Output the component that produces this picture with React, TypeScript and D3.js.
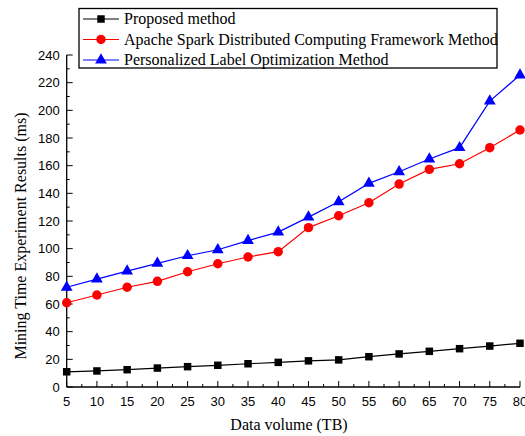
import React from "react";
import { scaleLinear, line, range, symbol, symbolSquare, symbolCircle, symbolTriangle } from "d3";

const volumes = [5, 10, 15, 20, 25, 30, 35, 40, 45, 50, 55, 60, 65, 70, 75, 80];
const proposed = [11, 11.6, 12.5, 13.7, 14.7, 15.7, 16.8, 17.8, 18.9, 19.6, 21.9, 23.9, 25.8, 27.7, 29.6, 31.6];
const spark = [60.9, 66.5, 72.1, 76.4, 83.3, 89.1, 94, 97.8, 115.2, 123.8, 133.2, 146.7, 157.3, 161.4, 173, 185.8];
const personalized = [72.1, 78, 83.8, 89.4, 94.9, 99.2, 105.8, 112, 122.8, 133.9, 147.2, 155.6, 164.8, 173, 206.7, 225.5];
const yTicks = [0, 20, 40, 60, 80, 100, 120, 140, 160, 180, 200, 220, 240];
const seriesNames = [
  "Proposed method",
  "Apache Spark Distributed Computing Framework Method",
  "Personalized Label Optimization Method",
];

const W = 525;
const H = 436;
const m = { left: 66.7, right: 520, top: 55, bottom: 387 };

const series = [
  { name: seriesNames[0], values: proposed, color: "#000000", shape: symbolSquare, size: 56 },
  { name: seriesNames[1], values: spark, color: "#ff0000", shape: symbolCircle, size: 70 },
  { name: seriesNames[2], values: personalized, color: "#0000ff", shape: symbolTriangle, size: 60 },
];

export default function App() {
  const x = scaleLinear().domain([5, 80]).range([m.left, m.right]);
  const y = scaleLinear().domain([0, 240]).range([m.bottom, m.top]);
  const serif = "'Liberation Serif', 'Times New Roman', serif";
  const sans = "'Liberation Sans', Arial, sans-serif";

  return (
    <svg width={W} height={H} style={{ position: "absolute", left: 0, top: 0 }}>
      <rect width={W} height={H} fill="#fff" />

      {/* axes */}
      <line x1={m.left} x2={m.left} y1={m.top} y2={m.bottom} stroke="#000" strokeWidth={1.3} />
      <line x1={m.left} x2={m.right} y1={m.bottom} y2={m.bottom} stroke="#000" strokeWidth={1.3} />

      {yTicks.map((t) => (
        <g key={"y" + t}>
          <line x1={m.left} x2={m.left + 6} y1={y(t)} y2={y(t)} stroke="#000" />
          <text x={m.left - 7} y={y(t)} dy="0.35em" textAnchor="end" fontFamily={sans} fontSize={13}>
            {t}
          </text>
        </g>
      ))}
      {range(10, 240, 20).map((t) => (
        <line key={"ym" + t} x1={m.left} x2={m.left + 3} y1={y(t)} y2={y(t)} stroke="#000" />
      ))}

      {volumes.map((v) => (
        <g key={"x" + v}>
          <line x1={x(v)} x2={x(v)} y1={m.bottom} y2={m.bottom - 6} stroke="#000" />
          <text x={x(v)} y={m.bottom + 19} textAnchor="middle" fontFamily={sans} fontSize={13}>
            {v}
          </text>
        </g>
      ))}
      {range(7.5, 80, 5).map((v) => (
        <line key={"xm" + v} x1={x(v)} x2={x(v)} y1={m.bottom} y2={m.bottom - 3} stroke="#000" />
      ))}

      <text x={289} y={430} textAnchor="middle" fontFamily={serif} fontSize={16}>
        Data volume (TB)
      </text>
      <text
        transform="translate(26, 236) rotate(-90)"
        textAnchor="middle"
        fontFamily={serif}
        fontSize={16}
      >
        Mining Time Experiment Results (ms)
      </text>

      {/* series */}
      {series.map((s) => {
        const path = line<number>()
          .x((_, i) => x(volumes[i]))
          .y((d) => y(d))(s.values);
        const marker = symbol().type(s.shape).size(s.size)();
        return (
          <g key={s.name}>
            <path d={path || ""} fill="none" stroke={s.color} strokeWidth={1.2} />
            {s.values.map((d, i) => (
              <path
                key={i}
                d={marker || ""}
                transform={`translate(${x(volumes[i])},${y(d)})`}
                fill={s.color}
              />
            ))}
          </g>
        );
      })}

      {/* legend */}
      <rect x={79} y={8.5} width={418} height={59.5} fill="#fff" stroke="#000" strokeWidth={1.3} />
      {series.map((s, i) => {
        const cy = 19 + i * 20.5;
        const marker = symbol().type(s.shape).size(s.size)();
        return (
          <g key={"lg" + i}>
            <line x1={83} x2={119} y1={cy} y2={cy} stroke={s.color} strokeWidth={1.2} />
            <path d={marker || ""} transform={`translate(101,${cy})`} fill={s.color} />
            <text x={124} y={cy} dy="0.33em" fontFamily={serif} fontSize={16}>
              {s.name}
            </text>
          </g>
        );
      })}
    </svg>
  );
}
